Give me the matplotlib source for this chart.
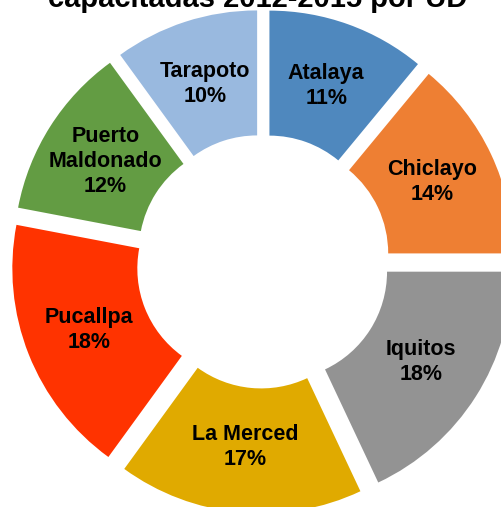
import matplotlib
matplotlib.use("Agg")
import matplotlib.pyplot as plt

# data
sedes = ["Atalaya", "Chiclayo", "Iquitos", "La Merced", "Pucallpa",
         "Puerto\nMaldonado", "Tarapoto"]
porcentajes = [11, 14, 18, 17, 18, 12, 10]
colores = ["#4F88BE", "#EE7F33", "#939393", "#E0AA00", "#FF3300",
           "#639C43", "#99B9DF"]
titulo = "capacitadas 2012-2015 por UD"


def main():
    plt.rcParams['font.family'] = ['Liberation Sans', 'DejaVu Sans']

    fig = plt.figure(figsize=(5.02, 5.07), dpi=100)
    ax = fig.add_axes([0, 0, 1, 1])

    # pixel-like data coords
    cx, cy = 263, 507 - 261.5
    radio = 233
    etiquetas = [f"{s}\n{p}%" for s, p in zip(sedes, porcentajes)]

    wedges, texts = ax.pie(
        porcentajes,
        labels=etiquetas,
        colors=colores,
        startangle=90,
        counterclock=False,
        center=(cx, cy),
        radius=radio,
        explode=[19] * len(porcentajes),
        labeldistance=0.72,
        wedgeprops=dict(width=125, linewidth=0),
        textprops=dict(fontsize=15.5, fontweight='bold', color='black'),
    )
    for t in texts:
        t.set_horizontalalignment('center')
        t.set_verticalalignment('center')
        t.set_linespacing(1.25)

    # title is cut off at the top, as in the original
    ax.text(258, 507 - 7, titulo, ha='center', va='baseline',
            fontsize=21, fontweight='bold')

    ax.set_xlim(0, 502)
    ax.set_ylim(0, 507)
    ax.set_aspect('equal')
    ax.axis('off')

    fig.savefig("out.png", dpi=100)


if __name__ == "__main__":
    main()
